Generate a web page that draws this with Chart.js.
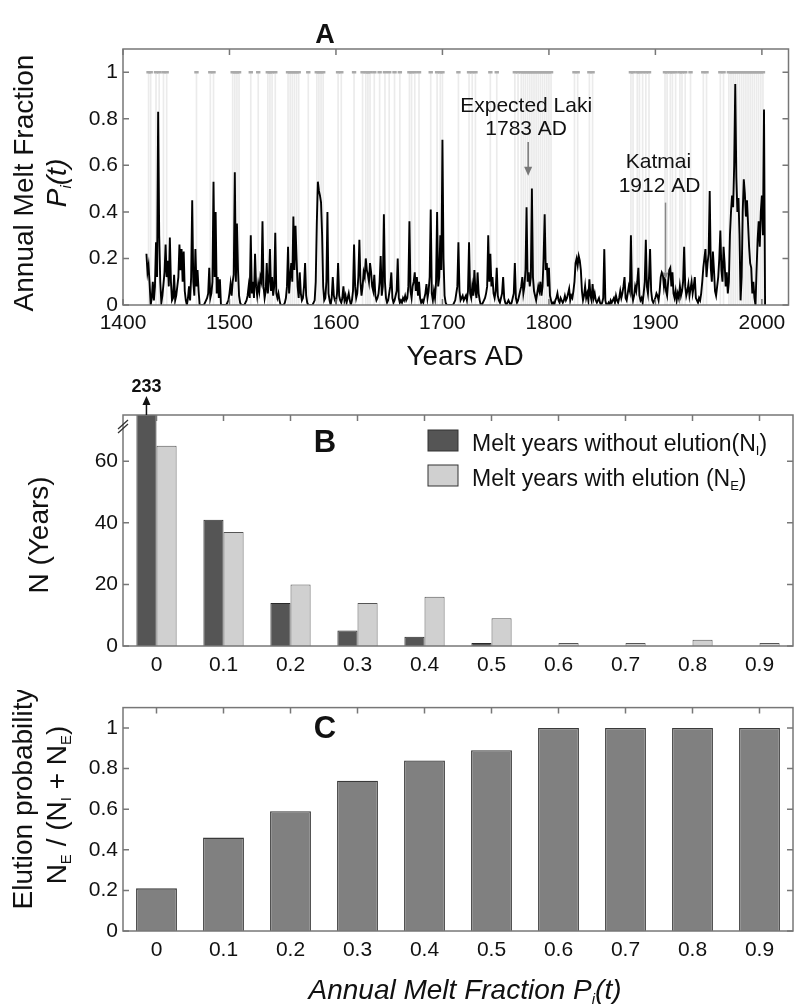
<!DOCTYPE html>
<html>
<head>
<meta charset="utf-8">
<script src="https://cdn.jsdelivr.net/npm/chart.js@4"></script>
<style>
html, body { margin: 0; padding: 0; background: #fff; }
body { width: 795px; height: 1004px; position: relative; overflow: hidden; }
canvas { position: absolute; left: 0; }
</style>
</head>
<body>
<canvas id="chartA" width="795" height="372" style="top:0;width:795px;height:372px"></canvas>
<canvas id="chartB" width="795" height="318" style="top:372px;width:795px;height:318px"></canvas>
<canvas id="chartC" width="795" height="314" style="top:690px;width:795px;height:314px"></canvas>
<script>
// ---- panel A: annual melt fraction, one value per year from 1422
const meltStartYear = 1422;
const meltFraction = [
  0.22, 0.14, 0.17, 0.09, 0.00, 0.03, 0.10, 0.02,                 // 1422-1429
  0.08, 0.27, 0.12, 0.83, 0.30, 0.10, 0.01, 0.04, 0.09, 0.14,     // 1430
  0.26, 0.12, 0.19, 0.08, 0.29, 0.10, 0.02, 0.03, 0.13, 0.02,     // 1440
  0.04, 0.08, 0.12, 0.26, 0.15, 0.24, 0.10, 0.23, 0.06, 0.02,     // 1450
  0.00, 0.03, 0.08, 0.02, 0.12, 0.45, 0.10, 0.04, 0.24, 0.08,     // 1460
  0.15, 0.06, 0.00, 0.00, 0.00, 0.00, 0.00, 0.01, 0.02, 0.03,     // 1470
  0.05, 0.16, 0.03, 0.05, 0.10, 0.53, 0.12, 0.40, 0.05, 0.12,     // 1480
  0.03, 0.11, 0.00, 0.00, 0.00, 0.00, 0.00, 0.00, 0.01, 0.02,     // 1490
  0.05, 0.09, 0.04, 0.10, 0.13, 0.57, 0.10, 0.35, 0.15, 0.04,     // 1500
  0.01, 0.00, 0.00, 0.00, 0.00, 0.01, 0.02, 0.04, 0.08, 0.03,     // 1510
  0.30, 0.05, 0.10, 0.03, 0.22, 0.08, 0.04, 0.09, 0.06, 0.12,     // 1520
  0.10, 0.36, 0.08, 0.03, 0.06, 0.18, 0.05, 0.10, 0.24, 0.06,     // 1530
  0.12, 0.04, 0.08, 0.31, 0.05, 0.03, 0.05, 0.02, 0.00, 0.00,     // 1540
  0.00, 0.00, 0.01, 0.03, 0.08, 0.25, 0.05, 0.12, 0.18, 0.10,     // 1550
  0.38, 0.15, 0.34, 0.20, 0.08, 0.03, 0.14, 0.05, 0.02, 0.03,     // 1560
  0.08, 0.18, 0.04, 0.01, 0.00, 0.00, 0.00, 0.00, 0.00, 0.01,     // 1570
  0.02, 0.10, 0.35, 0.53, 0.49, 0.47, 0.44, 0.30, 0.08, 0.02,     // 1580
  0.03, 0.10, 0.40, 0.05, 0.02, 0.00, 0.03, 0.12, 0.04, 0.02,     // 1590
  0.01, 0.05, 0.18, 0.04, 0.02, 0.01, 0.03, 0.08, 0.02, 0.04,     // 1600
  0.01, 0.03, 0.05, 0.02, 0.00, 0.02, 0.06, 0.26, 0.08, 0.03,     // 1610
  0.05, 0.12, 0.28, 0.10, 0.04, 0.08, 0.14, 0.12, 0.20, 0.15,     // 1620
  0.13, 0.10, 0.18, 0.14, 0.08, 0.06, 0.13, 0.04, 0.02, 0.03,     // 1630
  0.05, 0.10, 0.21, 0.04, 0.08, 0.39, 0.10, 0.03, 0.01, 0.02,     // 1640
  0.05, 0.08, 0.14, 0.03, 0.01, 0.02, 0.04, 0.06, 0.20, 0.03,     // 1650
  0.01, 0.02, 0.01, 0.03, 0.02, 0.04, 0.02, 0.03, 0.08, 0.36,     // 1660
  0.06, 0.03, 0.08, 0.10, 0.14, 0.06, 0.12, 0.04, 0.10, 0.03,     // 1670
  0.01, 0.02, 0.01, 0.03, 0.05, 0.09, 0.03, 0.06, 0.12, 0.41,     // 1680
  0.05, 0.02, 0.06, 0.03, 0.10, 0.40, 0.08, 0.12, 0.30, 0.15,     // 1690
  0.71, 0.20, 0.04, 0.01, 0.00, 0.00, 0.00, 0.00, 0.00, 0.00,     // 1700
  0.00, 0.01, 0.02, 0.05, 0.08, 0.27, 0.06, 0.02, 0.03, 0.04,     // 1710
  0.02, 0.03, 0.04, 0.02, 0.06, 0.27, 0.05, 0.03, 0.08, 0.04,     // 1720
  0.15, 0.06, 0.03, 0.14, 0.05, 0.02, 0.00, 0.00, 0.01, 0.02,     // 1730
  0.03, 0.05, 0.08, 0.30, 0.10, 0.22, 0.08, 0.12, 0.05, 0.03,     // 1740
  0.06, 0.16, 0.04, 0.02, 0.01, 0.03, 0.05, 0.12, 0.03, 0.01,     // 1750
  0.00, 0.01, 0.02, 0.01, 0.00, 0.01, 0.03, 0.05, 0.18, 0.03,     // 1760
  0.01, 0.02, 0.04, 0.06, 0.08, 0.12, 0.05, 0.08, 0.15, 0.42,     // 1770
  0.10, 0.14, 0.08, 0.12, 0.50, 0.12, 0.06, 0.04, 0.02, 0.05,     // 1780
  0.08, 0.06, 0.10, 0.04, 0.08, 0.20, 0.39, 0.15, 0.18, 0.08,     // 1790
  0.16, 0.04, 0.02, 0.00, 0.01, 0.00, 0.02, 0.03, 0.05, 0.02,     // 1800
  0.01, 0.03, 0.02, 0.01, 0.02, 0.04, 0.02, 0.03, 0.05, 0.07,     // 1810
  0.02, 0.04, 0.03, 0.06, 0.10, 0.18, 0.20, 0.17, 0.21, 0.19,     // 1820
  0.15, 0.06, 0.02, 0.04, 0.08, 0.03, 0.05, 0.02, 0.11, 0.04,     // 1830
  0.02, 0.09, 0.03, 0.05, 0.02, 0.01, 0.02, 0.03, 0.01, 0.00,     // 1840
  0.01, 0.03, 0.24, 0.02, 0.00, 0.00, 0.01, 0.00, 0.02, 0.01,     // 1850
  0.02, 0.03, 0.01, 0.04, 0.02, 0.01, 0.03, 0.06, 0.03, 0.05,     // 1860
  0.08, 0.12, 0.03, 0.02, 0.05, 0.08, 0.06, 0.30, 0.05, 0.02,     // 1870
  0.04, 0.08, 0.06, 0.10, 0.16, 0.04, 0.02, 0.03, 0.01, 0.05,     // 1880
  0.10, 0.28, 0.08, 0.05, 0.12, 0.24, 0.06, 0.02, 0.01, 0.02,     // 1890
  0.03, 0.05, 0.04, 0.02, 0.06, 0.12, 0.14, 0.13, 0.08, 0.12,     // 1900
  0.06, 0.04, 0.10, 0.15, 0.16, 0.08, 0.14, 0.05, 0.03, 0.06,     // 1910
  0.02, 0.05, 0.03, 0.08, 0.04, 0.06, 0.10, 0.25, 0.08, 0.04,     // 1920
  0.06, 0.09, 0.04, 0.07, 0.10, 0.05, 0.08, 0.12, 0.03, 0.02,     // 1930
  0.01, 0.03, 0.02, 0.05, 0.10, 0.16, 0.20, 0.24, 0.12, 0.18,     // 1940
  0.22, 0.49, 0.16, 0.10, 0.23, 0.15, 0.06, 0.04, 0.08, 0.12,     // 1950
  0.20, 0.32, 0.15, 0.10, 0.25, 0.18, 0.08, 0.14, 0.05, 0.10,     // 1960
  0.30, 0.40, 0.47, 0.42, 0.60, 0.95, 0.55, 0.40, 0.46, 0.30,     // 1970
  0.02, 0.12, 0.40, 0.54, 0.48, 0.38, 0.45, 0.35, 0.25, 0.18,     // 1980
  0.16, 0.05, 0.10, 0.03, 0.00, 0.15, 0.28, 0.36, 0.25, 0.40,     // 1990
  0.47, 0.30, 0.84, 0.00                                          // 2000-2003
];
// years with elution (grey marks at the top)
const elutionYears = [
  1424, 1426, 1431, 1434, 1438, 1441, 1469, 1482, 1485, 1503, 1505, 1507, 1509,
  1520, 1527, 1536, 1538, 1540, 1543, 1555, 1557, 1559, 1561, 1563, 1565, 1574,
  1582, 1584, 1586, 1588, 1602, 1605, 1617, 1625, 1628, 1630, 1632, 1636, 1641,
  1646, 1650, 1655, 1660, 1669, 1671, 1674, 1678, 1689, 1695, 1698, 1700, 1715,
  1725, 1728, 1731, 1745, 1751, 1768, 1771, 1774, 1776, 1778, 1780, 1782, 1784,
  1786, 1788, 1790, 1792, 1794, 1796, 1798, 1800, 1802, 1824, 1827, 1838, 1841,
  1877, 1879, 1883, 1885, 1888, 1891, 1894, 1909, 1911, 1914, 1916, 1919, 1923,
  1925, 1928, 1933, 1945, 1948, 1961, 1964, 1969, 1971, 1973, 1975, 1977, 1979,
  1981, 1983, 1985, 1987, 1989, 1991, 1993, 1995, 1997, 1999, 2001
];
const yearTicks = [1400, 1500, 1600, 1700, 1800, 1900, 2000];
const fractionTicks = [0, 0.2, 0.4, 0.6, 0.8, 1];

// ---- panels B and C
const meltBins = ['0', '0.1', '0.2', '0.3', '0.4', '0.5', '0.6', '0.7', '0.8', '0.9'];
const nWithoutElution = [233, 41, 14, 5, 3, 1, 0, 0, 0, 0];
const nWithElution = [65, 37, 20, 14, 16, 9, 1, 1, 2, 1];
const yearCountTicks = [0, 20, 40, 60];
const elutionProb = [0.21, 0.46, 0.59, 0.74, 0.84, 0.89, 1, 1, 1, 1];
const probTicks = [0, 0.2, 0.4, 0.6, 0.8, 1];

const FONT = "'Liberation Sans', Arial, Helvetica, sans-serif";
Chart.defaults.font.family = FONT;
Chart.defaults.color = '#111';

const n = t => ({ t });
const sub = t => ({ t, sub: true });

function richText(ctx, parts, x, y, size, opt = {}) {
  const pre = (opt.italic ? 'italic ' : '') + (opt.bold ? 'bold ' : '');
  const subSize = Math.round(size * 0.55);
  const fontOf = p => pre + (p.sub ? subSize : size) + 'px ' + FONT;
  let w = 0;
  parts.forEach(p => { ctx.font = fontOf(p); w += ctx.measureText(p.t).width; });
  let cx = opt.align === 'left' ? x : x - w / 2;
  ctx.fillStyle = opt.color || '#111';
  ctx.textAlign = 'left';
  ctx.textBaseline = 'alphabetic';
  parts.forEach(p => {
    ctx.font = fontOf(p);
    ctx.fillText(p.t, cx, p.sub ? y + size * 0.18 : y);
    cx += ctx.measureText(p.t).width;
  });
}

function rotText(ctx, parts, x, y, size, opt) {
  ctx.save();
  ctx.translate(x, y);
  ctx.rotate(-Math.PI / 2);
  richText(ctx, parts, 0, 0, size, opt);
  ctx.restore();
}

function arrowHead(ctx, x, y, dir, w, h) {
  ctx.beginPath();
  ctx.moveTo(x, y);
  ctx.lineTo(x - w / 2, y - dir * h);
  ctx.lineTo(x + w / 2, y - dir * h);
  ctx.closePath();
  ctx.fill();
}

// box around the plot with inward ticks, matlab style
const framePlugin = {
  id: 'frame',
  afterDatasetsDraw(chart, args, opts) {
    const { ctx, chartArea: a, scales } = chart;
    ctx.save();
    ctx.strokeStyle = '#777';
    ctx.lineWidth = 1.5;
    ctx.strokeRect(a.left, a.top, a.right - a.left, a.bottom - a.top);
    ctx.beginPath();
    scales.x.ticks.forEach((t, i) => {
      const px = scales.x.getPixelForTick(i);
      ctx.moveTo(px, a.top); ctx.lineTo(px, a.top + 6);
      if (opts.bottomTicks) { ctx.moveTo(px, a.bottom); ctx.lineTo(px, a.bottom - 6); }
    });
    scales.y.ticks.forEach((t, i) => {
      const py = scales.y.getPixelForTick(i);
      ctx.moveTo(a.left, py); ctx.lineTo(a.left + 6, py);
      ctx.moveTo(a.right, py); ctx.lineTo(a.right - 6, py);
    });
    ctx.stroke();
    ctx.restore();
  }
};

const tickFont = { size: 21 };
const noGrid = { display: false, drawTicks: false };

// ---------------- A
const meltPoints = meltFraction.map((v, i) => ({ x: meltStartYear + i, y: v }));
const elutionTop = elutionYears.map(yr => ({ x: yr, y: 1 }));

const textA = {
  id: 'textA',
  afterDraw(chart) {
    const { ctx, scales: { x, y } } = chart;
    ctx.save();
    richText(ctx, [n('A')], 325, 43, 27, { bold: true });
    rotText(ctx, [n('Annual Melt Fraction')], 33, 183, 28);
    rotText(ctx, [n('P'), sub('i'), n('(t)')], 66, 183, 28, { italic: true });
    richText(ctx, [n('Years AD')], 465, 365, 28);

    const lx = x.getPixelForValue(1780.5);
    richText(ctx, [n('Expected Laki')], lx - 2, y.getPixelForValue(0.83), 21);
    richText(ctx, [n('1783 AD')], lx - 2, y.getPixelForValue(0.73), 21);
    ctx.strokeStyle = '#777'; ctx.fillStyle = '#777'; ctx.lineWidth = 1.5;
    ctx.beginPath();
    ctx.moveTo(lx, y.getPixelForValue(0.70)); ctx.lineTo(lx, y.getPixelForValue(0.59));
    ctx.stroke();
    arrowHead(ctx, lx, y.getPixelForValue(0.555), 1, 8, 9);

    const kx = x.getPixelForValue(1909.5);
    richText(ctx, [n('Katmai')], kx - 7, y.getPixelForValue(0.59), 21);
    richText(ctx, [n('1912 AD')], kx - 6, y.getPixelForValue(0.485), 21);
    ctx.strokeStyle = '#888'; ctx.fillStyle = '#888';
    ctx.beginPath();
    ctx.moveTo(kx, y.getPixelForValue(0.44)); ctx.lineTo(kx, y.getPixelForValue(0.14));
    ctx.stroke();
    arrowHead(ctx, kx, y.getPixelForValue(0.11), 1, 6, 7);
    ctx.restore();
  }
};

new Chart(document.getElementById('chartA'), {
  type: 'line',
  data: {
    datasets: [
      { type: 'line', data: meltPoints, borderColor: '#000', borderWidth: 1.9, pointRadius: 0, tension: 0, order: 0 },
      { type: 'scatter', data: elutionTop, pointStyle: 'line', pointRadius: 2.2, borderWidth: 2.5, borderColor: '#aaaaaa', order: 1 },
      { type: 'bar', data: elutionTop, backgroundColor: '#ebebeb', barThickness: 1, order: 2 }
    ]
  },
  options: {
    responsive: false,
    animation: false,
    layout: { padding: { left: 0, right: 2, top: 49, bottom: 0 } },
    plugins: { legend: { display: false }, tooltip: { enabled: false }, frame: { bottomTicks: true } },
    scales: {
      x: {
        type: 'linear', min: 1400, max: 2025, offset: false,
        grid: noGrid, border: { display: false },
        afterBuildTicks: s => { s.ticks = yearTicks.map(v => ({ value: v })); },
        afterFit: s => { s.height = 67; },
        ticks: { padding: 6, font: tickFont, color: '#111', maxRotation: 0, autoSkip: false, callback: v => String(v) }
      },
      y: {
        type: 'linear', min: 0, max: 1.1,
        grid: noGrid, border: { display: false },
        afterBuildTicks: s => { s.ticks = fractionTicks.map(v => ({ value: v })); },
        afterFit: s => { s.width = 123; },
        ticks: { padding: 5, font: tickFont, color: '#111', callback: v => String(v) }
      }
    }
  },
  plugins: [framePlugin, textA]
});

// ---------------- B
const textB = {
  id: 'textB',
  afterDraw(chart) {
    const { ctx, chartArea: a } = chart;
    const dark = chart.data.datasets[0], light = chart.data.datasets[1];
    ctx.save();
    richText(ctx, [n('B')], 325, 80, 31, { bold: true });
    rotText(ctx, [n('N (Years)')], 48, 163, 28);

    // clipped first bar: arrow and full count
    const bx = chart.getDatasetMeta(0).data[0].x;
    ctx.strokeStyle = '#111'; ctx.fillStyle = '#111'; ctx.lineWidth = 1.5;
    ctx.beginPath(); ctx.moveTo(bx, a.top); ctx.lineTo(bx, a.top - 12); ctx.stroke();
    arrowHead(ctx, bx, a.top - 19, -1, 8, 9);
    richText(ctx, [n(String(nWithoutElution[0]))], bx, 20, 18, { bold: true });

    // axis break marks
    ctx.strokeStyle = '#333'; ctx.lineWidth = 1.3;
    ctx.beginPath();
    ctx.moveTo(a.left - 5, a.top + 14); ctx.lineTo(a.left + 5, a.top + 5);
    ctx.moveTo(a.left - 5, a.top + 18); ctx.lineTo(a.left + 5, a.top + 9);
    ctx.stroke();

    // legend
    const rows = [
      { ds: dark, y: 58, parts: [n('Melt years without elution(N'), sub('I'), n(')')] },
      { ds: light, y: 93, parts: [n('Melt years with elution (N'), sub('E'), n(')')] }
    ];
    rows.forEach(r => {
      ctx.fillStyle = r.ds.backgroundColor;
      ctx.fillRect(428, r.y, 30, 21);
      ctx.strokeStyle = '#333'; ctx.lineWidth = 1;
      ctx.strokeRect(428, r.y, 30, 21);
      richText(ctx, r.parts, 472, r.y + 21, 23, { align: 'left' });
    });
    ctx.restore();
  }
};

new Chart(document.getElementById('chartB'), {
  type: 'bar',
  data: {
    labels: meltBins,
    datasets: [
      { label: 'Melt years without elution', data: nWithoutElution, backgroundColor: '#555555', borderColor: '#2a2a2a', borderWidth: 1 },
      { label: 'Melt years with elution', data: nWithElution, backgroundColor: '#d0d0d0', borderColor: '#555', borderWidth: 1 }
    ]
  },
  options: {
    responsive: false,
    animation: false,
    categoryPercentage: 0.6,
    barPercentage: 1.0,
    layout: { padding: { left: 0, right: 2, top: 43, bottom: 0 } },
    plugins: { legend: { display: false }, tooltip: { enabled: false } },
    scales: {
      x: {
        grid: noGrid, border: { display: false },
        afterFit: s => { s.height = 44; },
        ticks: { padding: 7, font: tickFont, color: '#111', maxRotation: 0, autoSkip: false }
      },
      y: {
        min: 0, max: 75,
        grid: noGrid, border: { display: false },
        afterBuildTicks: s => { s.ticks = yearCountTicks.map(v => ({ value: v })); },
        afterFit: s => { s.width = 123; },
        ticks: { padding: 5, font: tickFont, color: '#111' }
      }
    }
  },
  plugins: [framePlugin, textB]
});

// ---------------- C
const textC = {
  id: 'textC',
  afterDraw(chart) {
    const { ctx } = chart;
    ctx.save();
    richText(ctx, [n('C')], 325, 48, 31, { bold: true });
    rotText(ctx, [n('Elution probability')], 32, 109, 28);
    rotText(ctx, [n('N'), sub('E'), n(' / (N'), sub('I'), n(' + N'), sub('E'), n(')')], 66, 115, 28);
    richText(ctx, [n('Annual Melt Fraction P'), sub('i'), n('(t)')], 465, 309, 28, { italic: true });
    ctx.restore();
  }
};

new Chart(document.getElementById('chartC'), {
  type: 'bar',
  data: {
    labels: meltBins,
    datasets: [
      { label: 'Elution probability', data: elutionProb, backgroundColor: '#808080', borderColor: '#3a3a3a', borderWidth: 1.3 }
    ]
  },
  options: {
    responsive: false,
    animation: false,
    categoryPercentage: 0.61,
    barPercentage: 1.0,
    layout: { padding: { left: 0, right: 2, top: 7, bottom: 0 } },
    plugins: { legend: { display: false }, tooltip: { enabled: false } },
    scales: {
      x: {
        grid: noGrid, border: { display: false },
        afterFit: s => { s.height = 73; },
        ticks: { padding: 7, font: tickFont, color: '#111', maxRotation: 0, autoSkip: false }
      },
      y: {
        min: 0, max: 1.1,
        grid: noGrid, border: { display: false },
        afterBuildTicks: s => { s.ticks = probTicks.map(v => ({ value: v })); },
        afterFit: s => { s.width = 123; },
        ticks: { padding: 5, font: tickFont, color: '#111', callback: v => String(v) }
      }
    }
  },
  plugins: [framePlugin, textC]
});
</script>
</body>
</html>
